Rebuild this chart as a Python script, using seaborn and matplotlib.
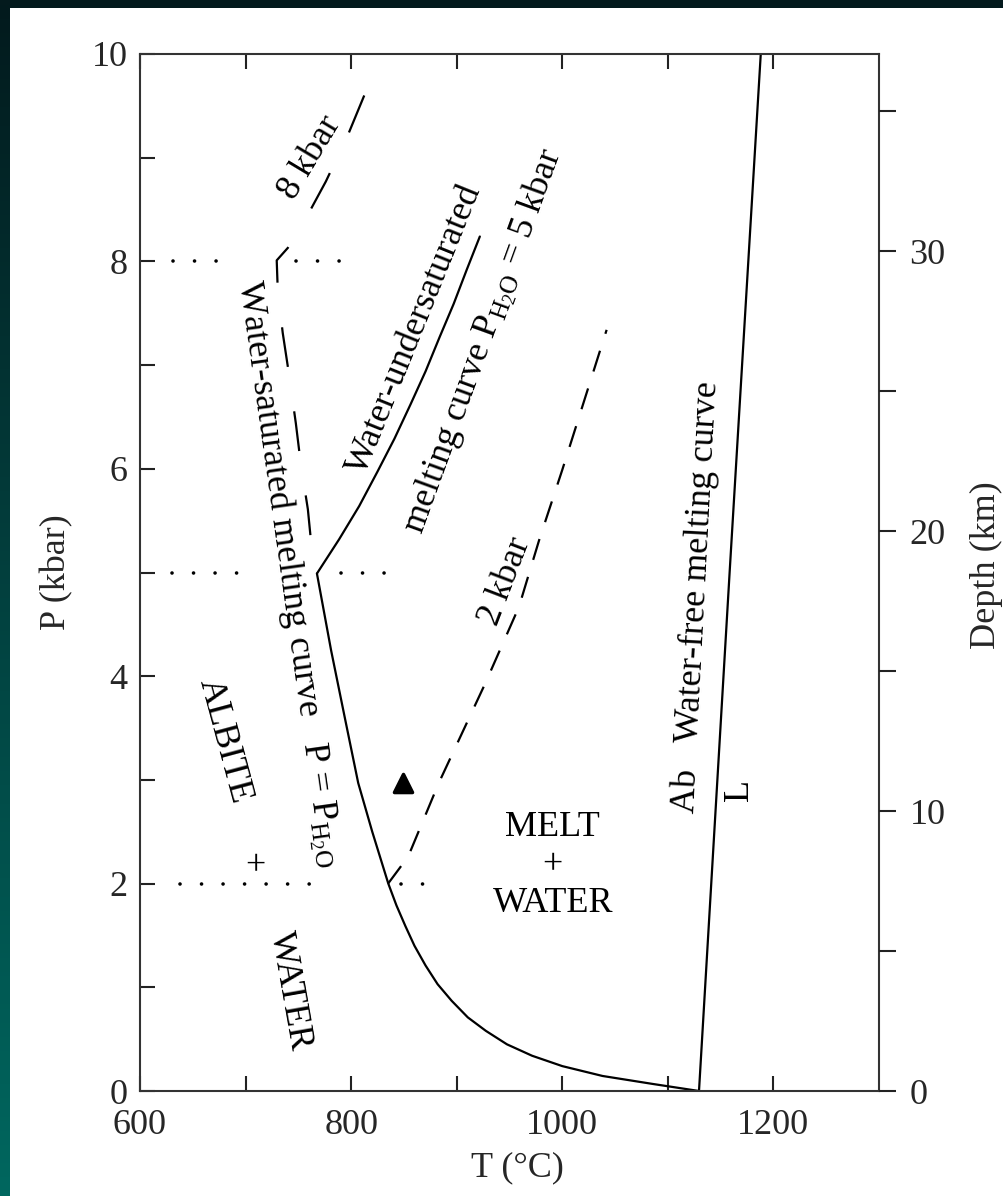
import numpy as np
import pandas as pd
import matplotlib
matplotlib.use("Agg")
import matplotlib.pyplot as plt
import seaborn as sns
from matplotlib.patches import Rectangle
from matplotlib.colors import LinearSegmentedColormap

sns.set_style("ticks")
plt.rcParams["font.family"] = ["Liberation Serif", "DejaVu Serif"]
plt.rcParams["mathtext.fontset"] = "custom"
plt.rcParams["mathtext.rm"] = "Liberation Serif"
plt.rcParams["mathtext.it"] = "Liberation Serif:italic"

# ---------------- data ----------------
# water-saturated melting curve (P = P_H2O)
sat_T = [767.6, 781, 794, 806.7, 820, 835.2, 842.9, 851.4, 860, 870.5, 881.9, 895.2,
         910.5, 927.6, 947.6, 971.4, 1000, 1038.1, 1085.7, 1129.5]
sat_P = [4.99, 4.25, 3.6, 2.97, 2.5, 2.0, 1.79, 1.59, 1.40, 1.21, 1.03, 0.87,
         0.71, 0.58, 0.45, 0.34, 0.24, 0.145, 0.068, 0.0]
# water-undersaturated melting curve, P_H2O = 5 kbar
under5_T = [767.6, 788.6, 807.6, 824.8, 841.0, 856.2, 870.5, 883.8, 897.1, 909.5, 921.9]
under5_P = [4.99, 5.32, 5.64, 5.97, 6.29, 6.62, 6.94, 7.27, 7.59, 7.92, 8.24]
# 8 kbar curve (dashed, drawn from top end down to the 5 kbar kink)
kbar8_T = [812.4, 797, 776, 759, 740, 729.5, 730.5, 735.2, 741, 747.6, 752.4, 759, 761.9, 767.6]
kbar8_P = [9.60, 9.22, 8.77, 8.45, 8.13, 8.01, 7.72, 7.31, 6.92, 6.44, 6.04, 5.61, 5.31, 4.99]
# 2 kbar curve (dashed)
kbar2_T = [835, 854, 883, 927, 959, 978, 1000, 1042]
kbar2_P = [2.0, 2.26, 2.97, 3.93, 4.67, 5.31, 5.99, 7.34]
# water-free melting curve
free_T = [1129.5, 1158.5, 1188]
free_P = [0.0, 5.0, 10.0]
# dotted guide rows: pressure and T extent of each dotted piece
dot_P = [8.0, 8.0, 5.0, 5.0, 2.0, 2.0]
dot_T0 = [631, 747.6, 630.5, 790.5, 638, 847.6]
dot_T1 = [673, 790, 694, 832.5, 765, 887]
# triangle symbol
tri_T = [849.5]
tri_P = [2.97]

x_major = [600, 800, 1000, 1200]
x_minor = [700, 900, 1100]
y_major = [0, 2, 4, 6, 8, 10]
y_minor = [1, 3, 5, 7, 9]
depth_major = [0, 10, 20, 30]
depth_minor = [5, 15, 25, 35]
depth_max = 37.04

# ---------------- figure ----------------
W, H = 1004, 1196
fig = plt.figure(figsize=(W / 100, H / 100), dpi=100)

bg = fig.add_axes([0, 0, 1, 1], zorder=-10)
bg.axis("off")
grad = np.linspace(0, 1, 256).reshape(-1, 1)
cmap = LinearSegmentedColormap.from_list("bg", ["#031a1d", "#02413f", "#00675f"])
bg.imshow(grad, aspect="auto", cmap=cmap, extent=[0, 1, 0, 1], origin="upper")
bg.add_patch(Rectangle((10 / W, 0), 1, (H - 8) / H, transform=bg.transAxes,
                       facecolor="white", edgecolor="none"))
bg.set_xlim(0, 1)
bg.set_ylim(0, 1)

ax = fig.add_axes([140 / W, 1 - 1091 / H, (879 - 140) / W, (1091 - 54) / H])
ax.set_facecolor("white")

LW = 1.6
for T, P in [(sat_T, sat_P), (under5_T, under5_P), (free_T, free_P)]:
    sns.lineplot(x=T, y=P, sort=False, estimator=None, ax=ax, color="black",
                 linewidth=LW, linestyle="-", solid_joinstyle="round")

sns.lineplot(x=kbar8_T, y=kbar8_P, sort=False, estimator=None, ax=ax, color="black",
             linewidth=LW, linestyle=(0, (18.0, 20.2)), dash_joinstyle="round")
sns.lineplot(x=kbar2_T, y=kbar2_P, sort=False, estimator=None, ax=ax, color="black",
             linewidth=LW, linestyle=(0, (9.8, 8.0)))

for p, t0, t1 in zip(dot_P, dot_T0, dot_T1):
    sns.lineplot(x=[t0, t1], y=[p, p], sort=False, estimator=None, ax=ax, color="black",
                 linewidth=2.6, linestyle=(0, (0.01, 5.95)), dash_capstyle="round")

sns.scatterplot(x=tri_T, y=tri_P, ax=ax, marker="^", s=170, color="black",
                edgecolor="black", linewidth=2.5, zorder=5)

# ---------------- text labels ----------------
FS = 26
def lab(x, y, s, rot=0, **kw):
    ax.text(x, y, s, rotation=rot, rotation_mode="anchor", ha="center", va="center",
            fontsize=FS, color="black", **kw)

lab(741, 4.99, "Water-saturated melting curve   P = P$_{\\mathrm{H_2O}}$", -82)
lab(860, 7.34, "Water-undersaturated", 68)
lab(925, 7.23, "melting curve P$_{\\mathrm{H_2O}}$ = 5 kbar", 70)
lab(761, 9.0, "8 kbar", 59)
lab(946, 4.91, "2 kbar", 69)
lab(1127.6, 4.76, "Ab   Water-free melting curve", 87)
lab(1167.6, 2.9, "L", 90)
lab(991, 2.17, "MELT\n+\nWATER", 0, linespacing=1.2, multialignment="center")
lab(680, 3.38, "ALBITE", -75)
lab(709.5, 2.16, "+", 0)
lab(742, 0.97, "WATER", -80)

# ---------------- axes ----------------
ax.set_xlim(600, 1300)
ax.set_ylim(0, 10)
ax.set_xticks(x_major)
ax.set_xticks(x_minor, minor=True)
ax.set_yticks(y_major)
ax.set_yticks(y_minor, minor=True)
ax.set_xticklabels([str(v) for v in x_major])
ax.set_yticklabels([str(v) for v in y_major])
for s in ax.spines.values():
    s.set_color("#333333")
    s.set_linewidth(1.5)
    s.set_visible(True)
ax.tick_params(axis="both", which="both", direction="in", length=11, width=1.5,
               color="#222222", top=True, right=True, labelsize=FS)
ax.tick_params(axis="x", which="both", pad=13)
ax.tick_params(axis="y", which="both", pad=9)
ax.set_xlabel("T (°C)", fontsize=FS)
ax.set_ylabel("P (kbar)", fontsize=FS)
ax.xaxis.set_label_coords(0.511, -0.058)
ax.yaxis.set_label_coords(-0.09, 0.5)

ax2 = ax.twinx()
ax2.set_ylim(0, depth_max)
ax2.set_yticks(depth_major)
ax2.set_yticks(depth_minor, minor=True)
ax2.set_yticklabels([str(v) for v in depth_major])
for s in ax2.spines.values():
    s.set_visible(False)
ax2.tick_params(axis="y", which="both", direction="out", length=12, width=1.5,
                color="#222222", labelsize=FS, pad=10)
ax2.set_ylabel("Depth (km)", fontsize=FS)
ax2.yaxis.set_label_coords(1.123, 0.507)

fig.savefig("out.png", dpi=100)
